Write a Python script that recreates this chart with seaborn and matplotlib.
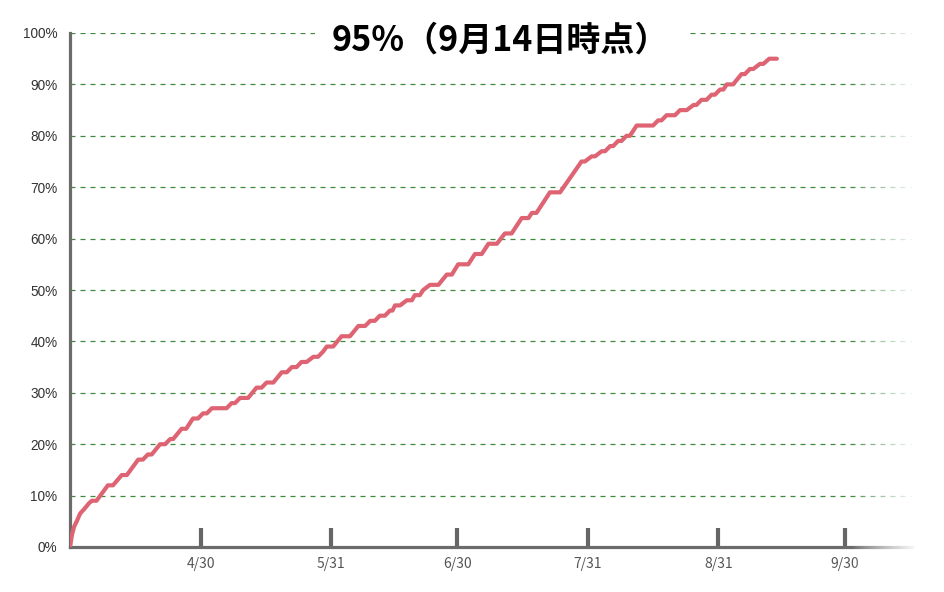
import numpy as np
import pandas as pd
import matplotlib
matplotlib.use("Agg")
import matplotlib.pyplot as plt
import seaborn as sns

# 開始日からの経過日数と進捗率(%)
start = pd.Timestamp("2021-03-30")
days = [0, 0.5, 1, 1.6, 2.4, 3.5, 4.5, 5.2, 6.3, 9,
        10.2, 12.3, 13.5, 16.2, 17.3, 18.5, 19.4, 21.4, 22.6, 23.8,
        24.5, 26.5, 27.6, 29.2, 30.4, 31.6, 32.5, 33.7, 37.2, 38.4,
        39.2, 40.4, 42.3, 44.3, 45.5, 46.7, 48.3, 50.3, 51.5, 52.7,
        53.8, 55, 56.2, 57.8, 58.9, 60.1, 61, 62.5, 64.5, 66.5,
        68.5, 70.1, 71.3, 72.4, 73.6, 74.8, 76, 76.6, 77.2, 78.4,
        80, 81.2, 81.9, 83.1, 83.9, 85.5, 87.5, 89.5, 90.7, 92.2,
        94.6, 96.2, 97.8, 99.4, 101.4, 103.3, 104.9, 107.3, 108.9, 109.7,
        110.8, 114, 116.4, 121.5, 122.3, 123.9, 124.7, 126.3, 127.1, 128.3,
        129, 130.2, 131, 132.2, 133, 134.6, 138.5, 139.7, 140.5, 141.7,
        143.7, 144.9, 146.5, 148.1, 148.8, 150, 151.2, 152.4, 153.2, 154.4,
        155.2, 156, 157.5, 159.5, 160.3, 161.5, 162.3, 163.9, 164.7, 166.1,
        167.9]
pct = [0, 2.5, 4, 5, 6.5, 7.5, 8.5, 9, 9, 12,
       12, 14, 14, 17, 17, 18, 18, 20, 20, 21,
       21, 23, 23, 25, 25, 26, 26, 27, 27, 28,
       28, 29, 29, 31, 31, 32, 32, 34, 34, 35,
       35, 36, 36, 37, 37, 38, 39, 39, 41, 41,
       43, 43, 44, 44, 45, 45, 46, 46, 47, 47,
       48, 48, 49, 49, 50, 51, 51, 53, 53, 55,
       55, 57, 57, 59, 59, 61, 61, 64, 64, 65,
       65, 69, 69, 75, 75, 76, 76, 77, 77, 78,
       78, 79, 79, 80, 80, 82, 82, 83, 83, 84,
       84, 85, 85, 86, 86, 87, 87, 88, 88, 89,
       89, 90, 90, 92, 92, 93, 93, 94, 94, 95,
       95]

tick_dates = ["2021-04-30", "2021-05-31", "2021-06-30", "2021-07-31", "2021-08-31", "2021-09-30"]
tick_labels = ["4/30", "5/31", "6/30", "7/31", "8/31", "9/30"]
y_ticks = [0, 10, 20, 30, 40, 50, 60, 70, 80, 90, 100]
title = "95%（9月14日時点）"

sns.set_style("white")
plt.rcParams["font.family"] = ["Noto Sans CJK JP", "DejaVu Sans"]

df = pd.DataFrame({"日付": start + pd.to_timedelta(days, unit="D"), "割合": pct})

fig = plt.figure(figsize=(9.44, 5.92), dpi=100)
ax = fig.add_axes([70 / 944, 45 / 592, 842 / 944, 514 / 592])

sns.lineplot(data=df, x="日付", y="割合", ax=ax, color="#de6473", linewidth=3.0, zorder=3)

ax.set_xlim(start, start + pd.Timedelta(days=200))
ax.set_ylim(0, 100)
ax.set_xlabel("")
ax.set_ylabel("")

ax.set_xticks(pd.to_datetime(tick_dates))
ax.set_xticklabels(tick_labels)
ax.set_yticks(y_ticks)
ax.set_yticklabels([f"{v}%" for v in y_ticks], family=["Liberation Sans", "DejaVu Sans"])

ax.tick_params(axis="x", bottom=True, direction="in", length=14, width=3.0, color="#666666",
               labelsize=10, labelcolor="#555555", pad=7)
ax.tick_params(axis="y", left=False, length=0, labelsize=9.8, labelcolor="#333333", pad=9)

ax.yaxis.grid(True, color="#3f8a3f", linestyle=(0, (4, 4)), linewidth=0.9)
ax.xaxis.grid(False)
for side in ["top", "right"]:
    ax.spines[side].set_visible(False)
for side in ["left", "bottom"]:
    ax.spines[side].set_color("#6b6b6b")
    ax.spines[side].set_linewidth(2.3)

ax.text(0.511, 0.986, title, transform=ax.transAxes, ha="center", va="center",
        fontsize=24.5, fontweight="bold", color="black", zorder=5,
        bbox=dict(facecolor="white", edgecolor="none", pad=12))

# 右端のフェード
fade = fig.add_axes([852 / 944, 0, 66 / 944, 1])
grad = np.ones((2, 256, 4))
grad[:, :, 3] = np.linspace(0, 1, 256) ** 0.8
fade.imshow(grad, aspect="auto", extent=[0, 1, 0, 1])
fade.axis("off")

fig.savefig("out.png", dpi=100, facecolor="white")
